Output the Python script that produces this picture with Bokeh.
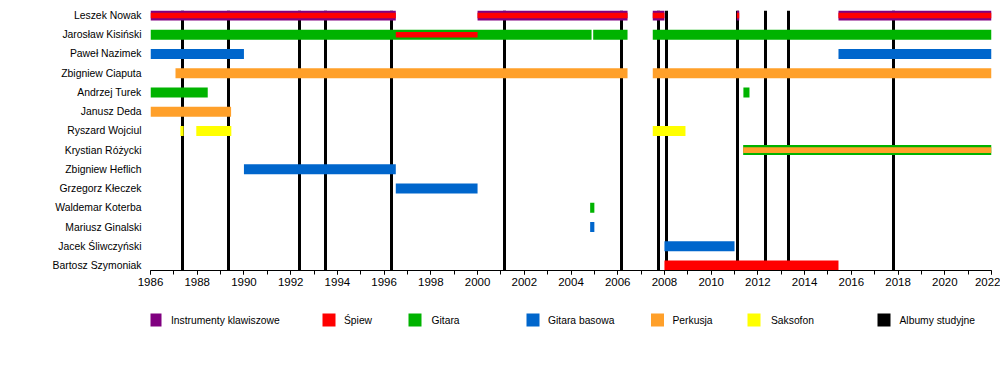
from bokeh.plotting import figure
from bokeh.models import Range1d, FixedTicker, SingleIntervalTicker, ColumnDataSource
from bokeh.layouts import column
from bokeh.embed import file_html
from bokeh.resources import INLINE
from bokeh.core.properties import value

# ---------------- data ----------------
members = ["Leszek Nowak", "Jarosław Kisiński", "Paweł Nazimek", "Zbigniew Ciaputa",
           "Andrzej Turek", "Janusz Deda", "Ryszard Wojciul", "Krystian Różycki",
           "Zbigniew Heflich", "Grzegorz Kłeczek", "Waldemar Koterba", "Mariusz Ginalski",
           "Jacek Śliwczyński", "Bartosz Szymoniak"]

roles = ["Instrumenty klawiszowe", "Śpiew", "Gitara", "Gitara basowa", "Perkusja", "Saksofon", "Albumy studyjne"]
role_colors = ["#800080", "#ff0000", "#00b300", "#0066cc", "#ffa02a", "#ffff00", "#000000"]

# main bars
bar_member = ["Leszek Nowak"] * 5 + ["Jarosław Kisiński"] * 3 + ["Paweł Nazimek"] * 2 + \
             ["Zbigniew Ciaputa"] * 2 + ["Andrzej Turek"] * 2 + ["Janusz Deda"] + \
             ["Ryszard Wojciul"] * 3 + ["Krystian Różycki", "Zbigniew Heflich", "Grzegorz Kłeczek",
             "Waldemar Koterba", "Mariusz Ginalski", "Jacek Śliwczyński", "Bartosz Szymoniak"]
bar_start = [1986.0, 2000.0, 2007.5, 2011.1, 2015.45,
             1986.0, 2004.95, 2007.5,
             1986.0, 2015.45,
             1987.07, 2007.5,
             1986.0, 2011.38,
             1986.0,
             1987.28, 1987.96, 2007.5,
             2011.37, 1990.0, 1996.5, 2004.82, 2004.82, 2008.0, 2008.0]
bar_end = [1996.5, 2006.42, 2008.0, 2011.2, 2022.0,
           2004.88, 2006.42, 2022.0,
           1990.0, 2022.0,
           2006.42, 2022.0,
           1988.45, 2011.64,
           1989.45,
           1987.42, 1989.46, 2008.9,
           2022.0, 1996.5, 2000.0, 2005.0, 2005.0, 2011.0, 2015.45]
bar_role = ["Instrumenty klawiszowe"] * 5 + ["Gitara"] * 3 + ["Gitara basowa"] * 2 + \
           ["Perkusja"] * 2 + ["Gitara"] * 2 + ["Perkusja"] + ["Saksofon"] * 3 + \
           ["Gitara", "Gitara basowa", "Gitara basowa", "Gitara", "Gitara basowa",
            "Gitara basowa", "Śpiew"]

# secondary (inner) bars
inner_member = ["Leszek Nowak"] * 5 + ["Jarosław Kisiński", "Krystian Różycki"]
inner_start = [1986.0, 2000.0, 2007.5, 2011.1, 2015.45, 1996.5, 2011.37]
inner_end = [1996.5, 2006.42, 2008.0, 2011.2, 2022.0, 2000.0, 2022.0]
inner_role = ["Śpiew"] * 6 + ["Perkusja"]

albums = [1987.36, 1989.33, 1992.39, 1993.5, 1996.32, 2001.16, 2006.15,
          2007.76, 2008.08, 2011.14, 2012.33, 2013.32, 2017.82]

year_start, year_end = 1986, 2022

# ---------------- helpers ----------------
color_of = dict(zip(roles, role_colors))
row_of = {m: i for i, m in enumerate(members)}
FONT = "Liberation Sans"
W = 1000
BL, BR = 150, 9

# ---------------- main chart ----------------
p = figure(width=W, height=300, output_backend="svg", toolbar_location=None,
           x_range=Range1d(year_start, year_end),
           y_range=Range1d(len(members) - 1 + 0.26, -0.26),
           min_border_left=BL, min_border_right=BR, min_border_top=10, min_border_bottom=30)
p.outline_line_color = None
p.xgrid.visible = False
p.ygrid.visible = False
p.background_fill_color = "white"
p.border_fill_color = "white"

# album lines (behind)
p.vspan(x=albums, line_color="black", line_width=3)

src = ColumnDataSource(dict(
    y=[row_of[m] for m in bar_member], left=bar_start, right=bar_end,
    color=[color_of[r] for r in bar_role]))
p.hbar(y="y", left="left", right="right", height=0.52, fill_color="color",
       line_color=None, source=src)

src2 = ColumnDataSource(dict(
    y=[row_of[m] for m in inner_member], left=inner_start, right=inner_end,
    color=[color_of[r] for r in inner_role]))
p.hbar(y="y", left="left", right="right", height=0.29, fill_color="color",
       line_color=None, source=src2)

# axes
xa = p.xaxis[0]
xa.ticker = SingleIntervalTicker(interval=2, num_minor_ticks=2)
xa.axis_line_color = "black"
xa.axis_line_width = 1
xa.major_tick_out = 4
xa.major_tick_in = 0
xa.minor_tick_out = 4
xa.minor_tick_in = 0
xa.major_label_standoff = 3
xa.major_label_text_font = FONT
xa.major_label_text_font_size = "11.5px"
xa.major_label_text_color = "black"

ya = p.yaxis[0]
ya.ticker = FixedTicker(ticks=list(range(len(members))))
ya.major_label_overrides = {i: m for i, m in enumerate(members)}
ya.axis_line_color = None
ya.major_tick_line_color = None
ya.minor_tick_line_color = None
ya.major_tick_out = 0
ya.major_label_standoff = 9
ya.major_label_text_font = FONT
ya.major_label_text_font_size = "10.4px"
ya.major_label_text_color = "black"

# ---------------- legend strip ----------------
# legend frame is aligned with the chart frame; x/y ranges are page pixels
leg = figure(width=W, height=50, output_backend="svg", toolbar_location=None,
             x_range=Range1d(BL, W - BR), y_range=Range1d(350, 300),
             min_border_left=BL, min_border_right=BR,
             min_border_top=0, min_border_bottom=0)
leg.axis.visible = False
leg.grid.visible = False
leg.outline_line_color = None

sq_left = [148, 322, 408, 526, 650.5, 747, 877]
txt_x = [170.5, 343.5, 431, 547.5, 672, 770.5, 899]
yc = 319.5
leg.rect(x=[s + 6.5 for s in sq_left], y=[yc] * len(roles), width=13, height=13,
         fill_color=role_colors, line_color=None)
leg.text(x=txt_x, y=[yc] * len(roles), text=roles, text_font=value(FONT),
         text_font_size="10.3px", text_baseline="middle", text_align="left",
         text_color="black")

layout = column(p, leg, spacing=0)
open("out.html", "w").write(file_html(layout, INLINE))
